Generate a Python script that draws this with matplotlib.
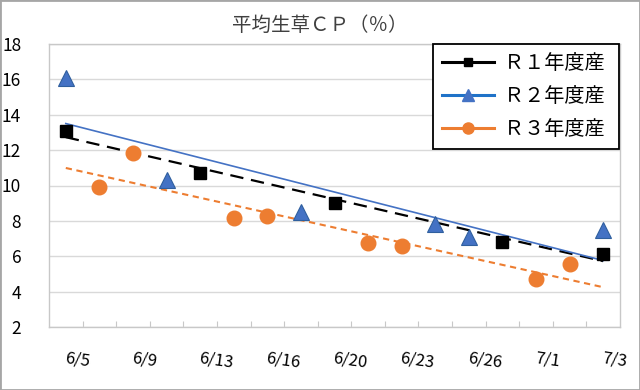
import numpy as np
import matplotlib
matplotlib.use('Agg')

import matplotlib.pyplot as plt
from matplotlib.lines import Line2D
from matplotlib.patches import Rectangle

plt.rcParams['font.family'] = ['Noto Sans CJK JP', 'DejaVu Sans']

# 17 sampling dates on a category axis, label on every other one
n_cat = 17
date_labels = ['6/5', '6/9', '6/13', '6/16', '6/20', '6/23', '6/26', '7/1', '7/3']

r1_idx = [0, 4, 8, 13, 16]
r1_val = [13.1, 10.7, 9.0, 6.8, 6.1]

r2_idx = [0, 3, 7, 11, 12, 16]
r2_val = [16.1, 10.3, 8.5, 7.8, 7.1, 7.5]

r3_idx = [1, 2, 5, 6, 9, 10, 14, 15]
r3_val = [9.9, 11.85, 8.15, 8.3, 6.75, 6.6, 4.7, 5.55]

names = ['Ｒ１年度産', 'Ｒ２年度産', 'Ｒ３年度産']

black = '#000000'
blue = '#4472C4'
blue_leg = '#1F72C8'
orange = '#ED7D31'

fig = plt.figure(figsize=(6.4, 3.9), dpi=100)
ax = fig.add_axes([49 / 640, 1 - 327 / 390, (620 - 49) / 640, (327 - 44) / 390])

xs = np.arange(n_cat)


def trend(idx, val):
    k, b = np.polyfit(idx, val, 1)
    return k * xs + b


ax.plot(xs, trend(r1_idx, r1_val), color=black, lw=1.6, dashes=(6, 3.5), zorder=3)
ax.plot(xs, trend(r2_idx, r2_val), color=blue, lw=1.2, zorder=3)
ax.plot(xs, trend(r3_idx, r3_val), color=orange, lw=1.5, dashes=(3, 2.2), zorder=3)

ax.plot(r1_idx, r1_val, ls='none', marker='s', ms=9, color=black, zorder=4)
ax.plot(r2_idx, r2_val, ls='none', marker='^', ms=11, color=blue,
        markeredgecolor='#2F5F9E', markeredgewidth=0.8, zorder=4)
ax.plot(r3_idx, r3_val, ls='none', marker='o', ms=10.5, color=orange, zorder=4)

ax.set_xlim(-0.5, n_cat - 0.5)
ax.set_ylim(2, 18)
ax.set_yticks(np.arange(2, 19, 2))
ax.grid(axis='y', color='#d9d9d9', lw=1)
ax.set_axisbelow(True)
for s in ax.spines.values():
    s.set_color('#c8c8c8')
    s.set_linewidth(1)

ax.tick_params(axis='y', length=0, pad=20, labelsize=12.5, labelcolor='black')

# category boundary ticks
ax.set_xticks(np.arange(0.5, n_cat - 1, 1))
ax.set_xticklabels([])
ax.tick_params(axis='x', direction='in', length=4, color='#c8c8c8')

for i, lab in enumerate(date_labels):
    ax.annotate(lab, xy=(2 * i, 0), xycoords=('data', 'axes fraction'),
                xytext=(0, -23), textcoords='offset pixels',
                ha='left', va='top', rotation=-8, rotation_mode='anchor',
                fontsize=12, color='black')

fig.text(0.499, 1 - 25 / 390, '平均生草ＣＰ（％）', ha='center', va='center',
         fontsize=14, color='#404040')

handles = [
    Line2D([], [], color=black, lw=2.2, marker='s', ms=6),
    Line2D([], [], color=blue_leg, lw=2.2, marker='^', ms=8, markerfacecolor=blue,
           markeredgecolor=blue),
    Line2D([], [], color=orange, lw=2.2, marker='o', ms=8),
]
leg = ax.legend(handles, [n + ' ' for n in names], loc='upper left',
                bbox_to_anchor=(433 / 640, 1 - 44 / 390),
                bbox_transform=fig.transFigure,
                fontsize=14.5, frameon=True, fancybox=False, framealpha=1,
                handlelength=2.6, handletextpad=0.5, labelspacing=0.6,
                borderpad=0.45, borderaxespad=0)
leg.get_frame().set_edgecolor('black')
leg.get_frame().set_linewidth(1.3)
leg.set_zorder(10)

fig.patches.append(Rectangle((0, 0), 1, 1, transform=fig.transFigure, fill=False,
                             edgecolor='#a6a6a6', lw=2))

fig.savefig('out.png', dpi=100)
